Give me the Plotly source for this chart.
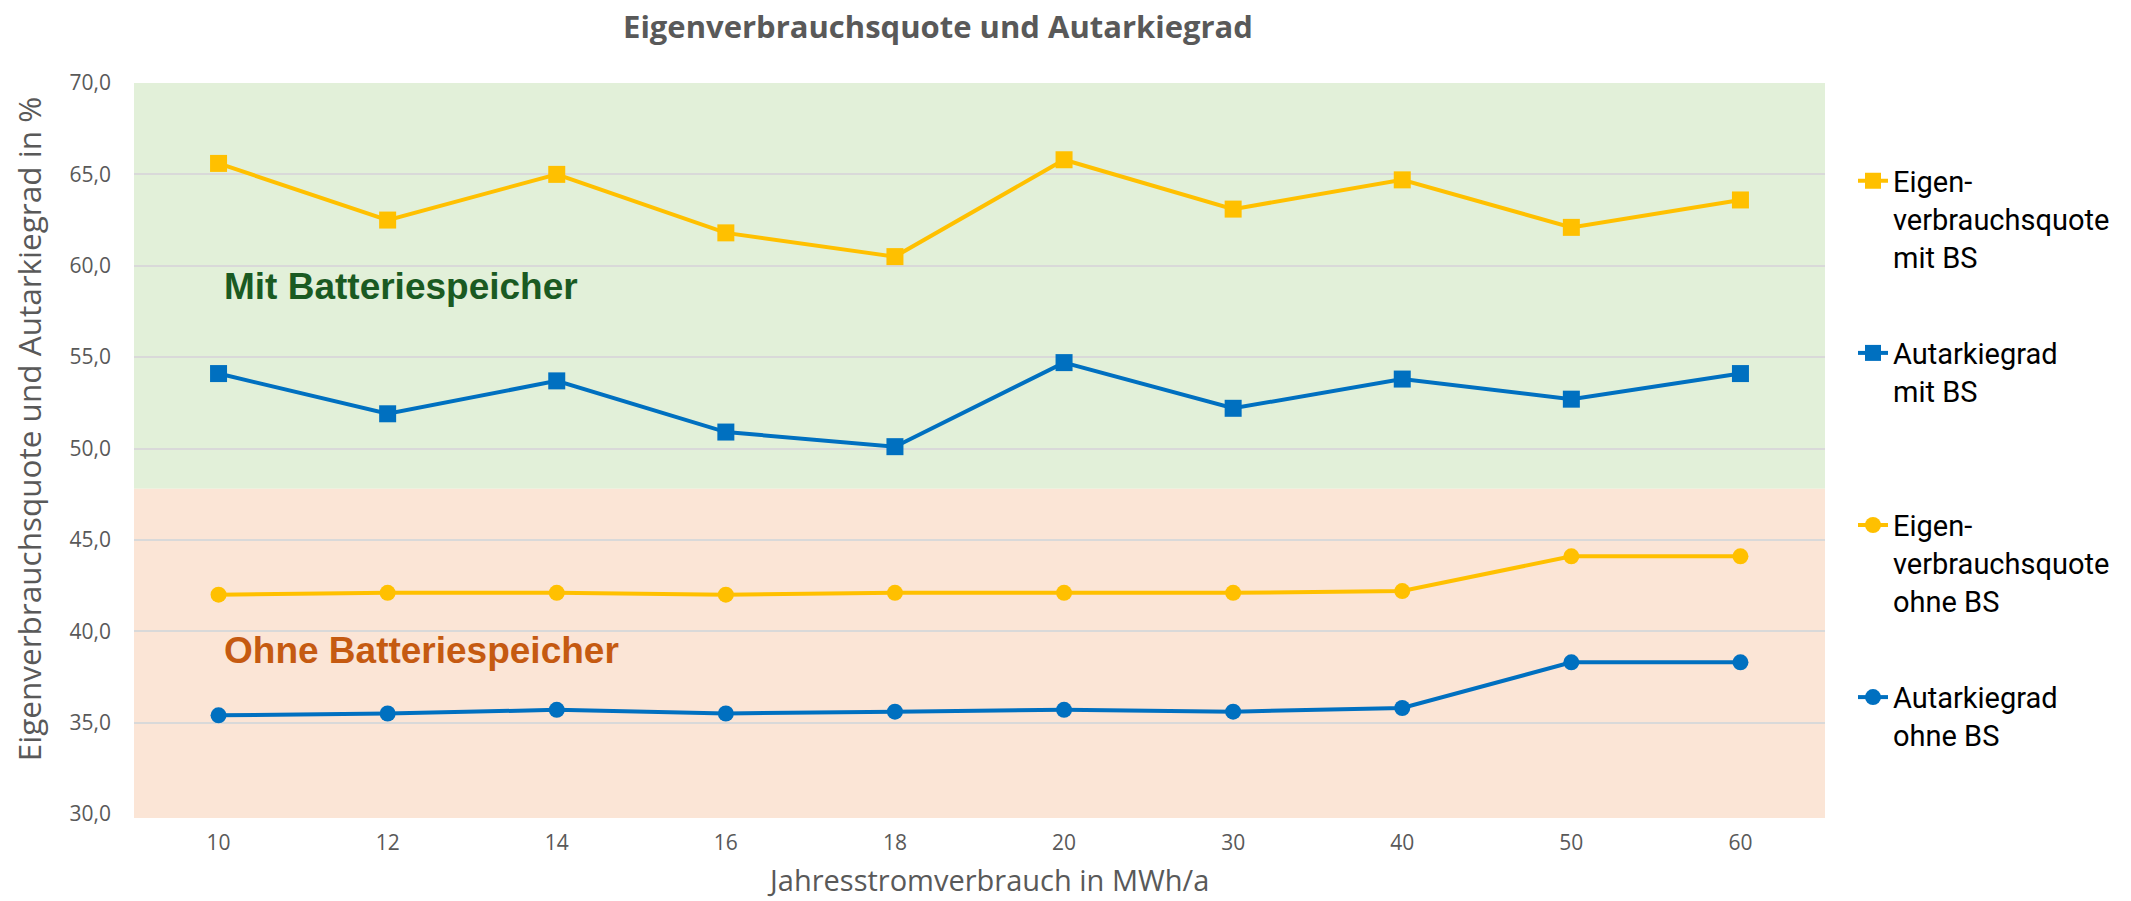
import plotly.graph_objects as go

# ---- data ----
categories = ["10", "12", "14", "16", "18", "20", "30", "40", "50", "60"]
eigen_mit_bs = [65.6, 62.5, 65.0, 61.8, 60.5, 65.8, 63.1, 64.7, 62.1, 63.6]
autarkie_mit_bs = [54.1, 51.9, 53.7, 50.9, 50.1, 54.7, 52.2, 53.8, 52.7, 54.1]
eigen_ohne_bs = [42.0, 42.1, 42.1, 42.0, 42.1, 42.1, 42.1, 42.2, 44.1, 44.1]
autarkie_ohne_bs = [35.4, 35.5, 35.7, 35.5, 35.6, 35.7, 35.6, 35.8, 38.3, 38.3]

series_names = [
    "Eigen-<br>verbrauchsquote<br>mit BS",
    "Autarkiegrad<br>mit BS<br> ",
    "Eigen-<br>verbrauchsquote<br>ohne BS",
    "Autarkiegrad<br>ohne BS<br> ",
]

y_min, y_max = 30, 70
band_split = 47.8

YELLOW = "#FFC000"
BLUE = "#0070C0"
GRAY = "#595959"
FONT = "Open Sans"

W, H = 2131, 901
L, R, T, B = 134, 306, 82.5, 87
PW, PH = W - L - R, H - T - B

fig = go.Figure()
series = [
    (eigen_mit_bs, YELLOW, "square", 17),
    (autarkie_mit_bs, BLUE, "square", 17),
    (eigen_ohne_bs, YELLOW, "circle", 16),
    (autarkie_ohne_bs, BLUE, "circle", 16),
]
for i, (vals, col, sym, sz) in enumerate(series):
    fig.add_trace(go.Scatter(
        x=categories, y=vals, mode="lines+markers", name=series_names[i],
        legendgroup=f"g{i}",
        line=dict(color=col, width=4),
        marker=dict(color=col, symbol=sym, size=sz),
        cliponaxis=False,
    ))

split_paper = (band_split - y_min) / (y_max - y_min)
pad = 4 / PH
fig.add_shape(type="rect", xref="paper", yref="paper", x0=0, x1=1,
              y0=split_paper, y1=1, fillcolor="#E2F0D9", line_width=0, layer="below")
fig.add_shape(type="rect", xref="paper", yref="paper", x0=0, x1=1,
              y0=-pad, y1=split_paper, fillcolor="#FBE5D6", line_width=0, layer="below")

fig.add_annotation(text="<b>Mit Batteriespeicher</b>", xref="paper", yref="paper",
                   x=(222 - L) / PW, y=1 - (286 - T) / PH,
                   xanchor="left", yanchor="middle", showarrow=False,
                   font=dict(family="Liberation Sans, Arial", size=37, color="#1A5A22"))
fig.add_annotation(text="<b>Ohne Batteriespeicher</b>", xref="paper", yref="paper",
                   x=(222 - L) / PW, y=1 - (650 - T) / PH,
                   xanchor="left", yanchor="middle", showarrow=False,
                   font=dict(family="Liberation Sans, Arial", size=37, color="#C55A11"))

# axis titles as annotations for placement control
fig.add_annotation(text="Eigenverbrauchsquote und Autarkiegrad in %", xref="paper", yref="paper",
                   x=-(L - 28) / PW, y=1 - (429 - T) / PH,
                   xanchor="center", yanchor="middle", textangle=-90, showarrow=False,
                   font=dict(family=FONT, size=31.5, color=GRAY))
fig.add_annotation(text="Jahresstromverbrauch in MWh/a", xref="paper", yref="paper",
                   x=(988 - L) / PW, y=-(880 - (H - B)) / PH,
                   xanchor="center", yanchor="middle", showarrow=False,
                   font=dict(family=FONT, size=29, color=GRAY))

fig.update_layout(
    width=W, height=H,
    margin=dict(l=L, r=R, t=T, b=B, autoexpand=False),
    paper_bgcolor="white", plot_bgcolor="rgba(0,0,0,0)",
    separators=",.",
    title=dict(text="<b>Eigenverbrauchsquote und Autarkiegrad</b>", xref="container", yref="container",
               x=938 / W, y=1 - 27 / H, xanchor="center", yanchor="middle",
               font=dict(family=FONT, size=31, color=GRAY)),
    showlegend=True,
    legend=dict(x=(1853 - L) / PW, y=1 - (155 - T) / PH,
                xanchor="left", yanchor="top", valign="top",
                font=dict(family="Roboto", size=29, color="#000000"),
                tracegroupgap=56, bgcolor="rgba(0,0,0,0)", itemwidth=30),
    xaxis=dict(type="category", range=[-0.5, len(categories) - 0.5],
               showgrid=False, zeroline=False, showline=False,
               ticks="", ticklabelstandoff=14,
               tickfont=dict(family=FONT, size=21, color=GRAY)),
    yaxis=dict(range=[y_min, y_max], dtick=5, tickformat=".1f", showgrid=True,
               gridcolor="#D9D9D9", gridwidth=2, zeroline=False, showline=False,
               ticks="", ticklabelstandoff=22,
               tickfont=dict(family=FONT, size=21, color=GRAY)),
)

fig.write_html("out.html", config={"displayModeBar": False},
               post_script="document.body.style.margin='0';document.body.style.overflow='hidden';")
